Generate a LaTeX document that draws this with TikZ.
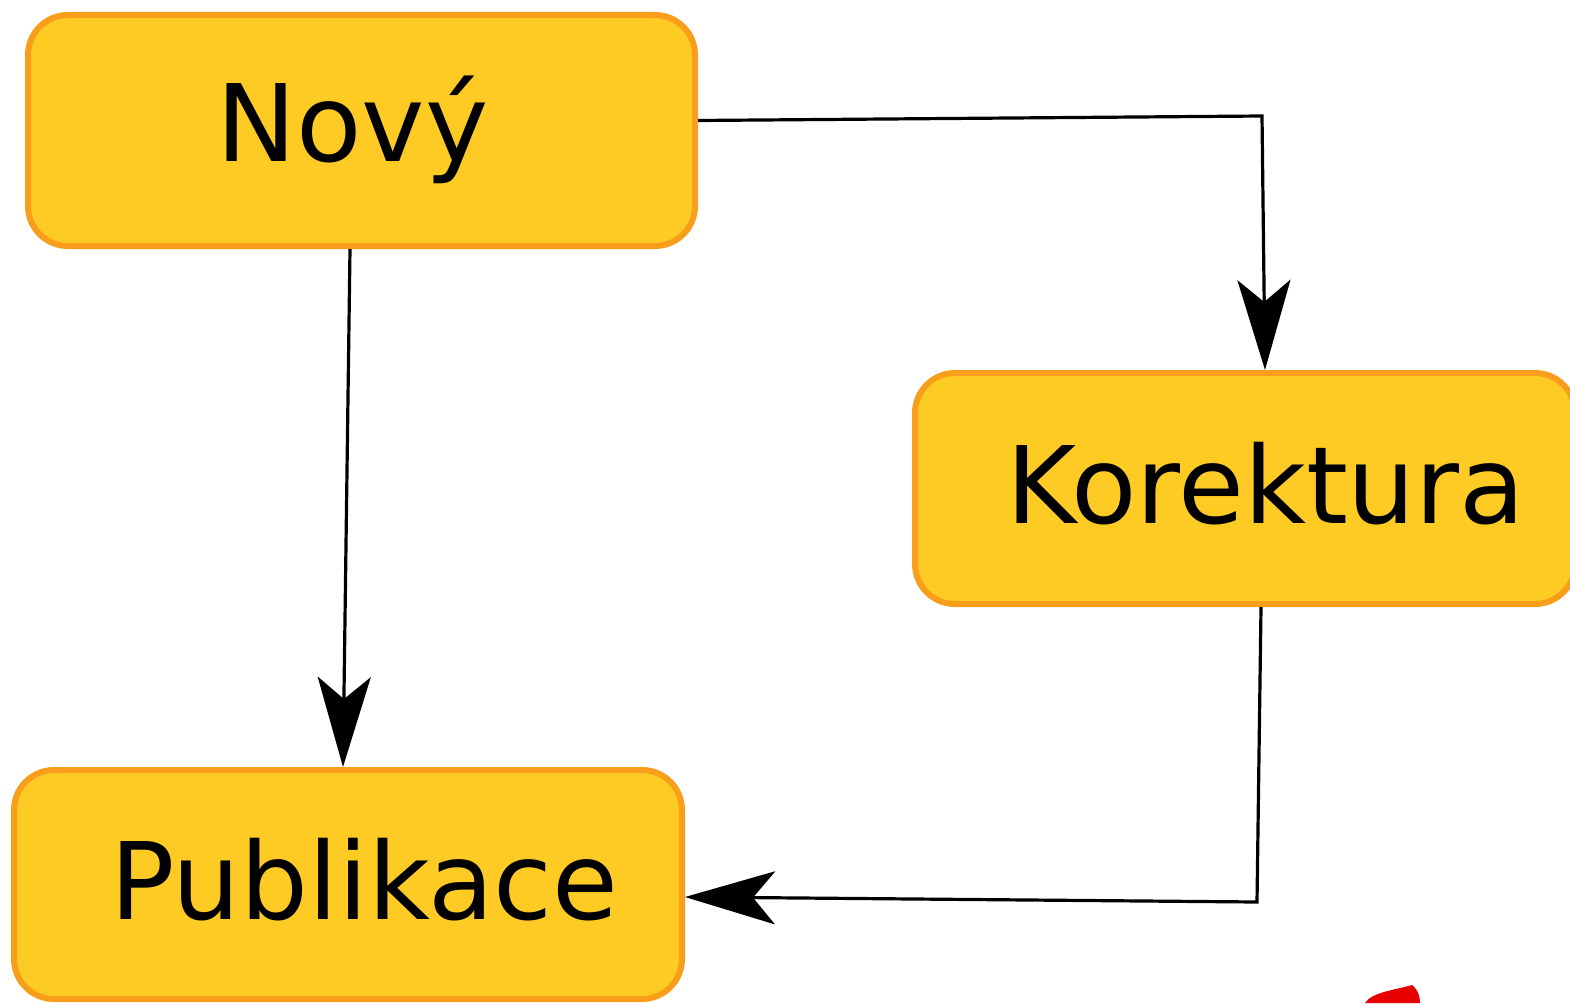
\documentclass[tikz,border=0pt]{standalone}
\usepackage{fontspec}
\setmainfont{DejaVu Sans}
\usepackage{pdfrender}
\usetikzlibrary{arrows.meta}
\definecolor{boxfill}{RGB}{254,203,36}
\definecolor{boxline}{RGB}{248,158,27}
\definecolor{blobred}{RGB}{230,0,0}
\newcommand\thicktxt[1]{\textpdfrender{TextRenderingMode=FillStroke,LineWidth=2.2pt,LineJoin=1}{#1}}
\begin{document}
\begin{tikzpicture}[x=1pt,y=-1pt,
  box/.style={draw=boxline, fill=boxfill, line width=6pt, rounded corners=40pt, inner sep=0pt},
  txt/.style={inner sep=0pt, font=\fontsize{107}{120}\selectfont},
  conn/.style={draw=black, line width=3.2pt, -{Stealth[length=90pt, width=53pt, inset=22pt]}}]
\useasboundingbox (0,0) rectangle (1570,1003);
\node[box, minimum width=667pt, minimum height=231pt] (novy) at (361.5,130.5) {};
\node[box, minimum width=660pt, minimum height=231pt] (kor) at (1245,488.5) {};
\node[box, minimum width=668pt, minimum height=229pt] (pub) at (348,884.5) {};
\node[txt, anchor=base west] (tnovy) at (216,162) {\thicktxt{Nový}};
\node[txt, anchor=base west] (tkor) at (1006,523) {\thicktxt{Korektura}};
\node[txt, anchor=base west] (tpub) at (110,919) {\thicktxt{Publikace}};
\coordinate (c1) at (1262,116);
\coordinate (c2) at (1257,902);
\draw[conn] ([yshift=10pt]novy.east) -- (c1) -- ([xshift=20pt]kor.north);
\draw[conn] ([xshift=-11.5pt]novy.south) -- ([xshift=-5pt]pub.north);
\draw[conn] ([xshift=16pt]kor.south) -- (c2) -- ([yshift=-12.5pt]pub.east);
\fill[blobred] (1365,1003) .. controls (1372,992) and (1395,990) .. (1412,985) .. controls (1418,990) and (1420,996) .. (1420,1003) -- cycle;
\end{tikzpicture}
\end{document}
